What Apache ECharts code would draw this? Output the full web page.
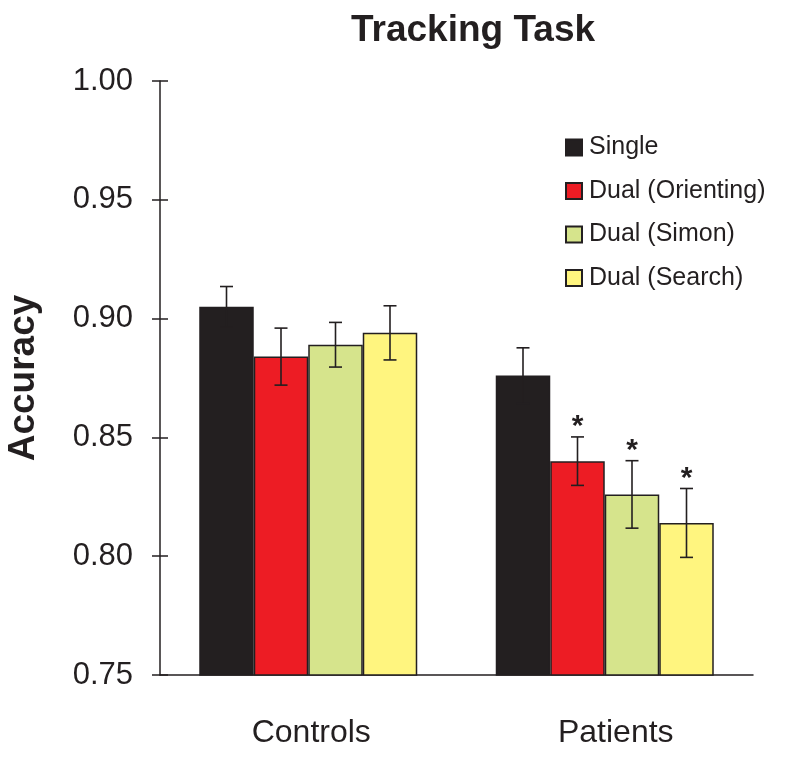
<!DOCTYPE html>
<html>
<head>
<meta charset="utf-8">
<script src="https://cdn.jsdelivr.net/npm/echarts@6/dist/echarts.min.js"></script>
<style>html,body{margin:0;padding:0;background:#fff}#c{width:800px;height:758px}</style>
</head>
<body>
<div id="c"></div>
<script>
// ---- data ----
const categories = ['Controls', 'Patients'];
const seriesNames = ['Single', 'Dual (Orienting)', 'Dual (Simon)', 'Dual (Search)'];
const singleVals = [0.905, 0.876];
const singleErr = [0.0085, 0.0117];
const orientVals = [0.884, 0.840];
const orientErr = [0.012, 0.0102];
const simonVals = [0.889, 0.826];
const simonErr = [0.0094, 0.0142];
const searchVals = [0.894, 0.814];
const searchErr = [0.0114, 0.0145];
const singleSig = [false, false];
const orientSig = [false, true];
const simonSig = [false, true];
const searchSig = [false, true];
const yTicks = [0.75, 0.80, 0.85, 0.90, 0.95, 1.00];

// ---- styling ----
const FONT = '"Liberation Sans", Arial, Helvetica, sans-serif';
const INK = '#231f20';
const colors = ['#231f20', '#ed1c24', '#d6e48c', '#fff57f'];
const BAR_W = 54.5;

const vals = [singleVals, orientVals, simonVals, searchVals];
const errs = [singleErr, orientErr, simonErr, searchErr];
const sigs = [singleSig, orientSig, simonSig, searchSig];

const chart = echarts.init(document.getElementById('c'), null, {renderer: 'canvas'});

const barSeries = seriesNames.map((n, i) => ({
  name: n,
  type: 'bar',
  data: vals[i],
  barWidth: BAR_W,
  barGap: '0%',
  itemStyle: {color: colors[i], borderColor: INK, borderWidth: 1.5},
  emphasis: {disabled: true},
  z: 2
}));

const errSeries = seriesNames.map((n, i) => ({
  type: 'custom',
  name: n + ' err',
  data: vals[i].map((v, j) => [j, v, errs[i][j], sigs[i][j] ? 1 : 0]),
  z: 5,
  silent: true,
  renderItem: function (params, api) {
    const x = api.value(0), v = api.value(1), e = api.value(2), s = api.value(3);
    const top = api.coord([x, v + e]);
    const bot = api.coord([x, v - e]);
    const cx = top[0] + (i - 1.5) * BAR_W;
    const hw = 6.5;
    const children = [
      {type: 'line', shape: {x1: cx, y1: top[1], x2: cx, y2: bot[1]}, style: {stroke: INK, lineWidth: 1.6}},
      {type: 'line', shape: {x1: cx - hw, y1: top[1], x2: cx + hw, y2: top[1]}, style: {stroke: INK, lineWidth: 1.6}},
      {type: 'line', shape: {x1: cx - hw, y1: bot[1], x2: cx + hw, y2: bot[1]}, style: {stroke: INK, lineWidth: 1.6}}
    ];
    if (s) {
      children.push({type: 'text', x: cx, y: top[1] - 10,
        style: {text: '*', fill: INK, font: 'bold 30px ' + FONT, align: 'center', verticalAlign: 'middle'}});
    }
    return {type: 'group', children: children};
  }
}));

const option = {
  animation: false,
  backgroundColor: '#fff',
  title: {
    text: 'Tracking Task',
    left: 351, top: 12, padding: 0,
    textStyle: {fontFamily: FONT, fontWeight: 'bold', fontSize: 37, color: INK}
  },
  legend: {
    orient: 'vertical',
    left: 565, top: 135, padding: 0,
    itemWidth: 16, itemHeight: 16,
    itemGap: 18.5,
    icon: 'rect',
    data: seriesNames,
    selectedMode: false,
    textStyle: {fontFamily: FONT, fontSize: 25, color: INK, padding: [0, 0, 0, 2]}
  },
  grid: {left: 160, right: 47, top: 81, bottom: 83, containLabel: false, outerBoundsMode: 'none'},
  xAxis: {
    type: 'category',
    data: categories,
    axisLine: {lineStyle: {color: INK, width: 1.5}},
    axisTick: {show: false},
    axisLabel: {
      margin: 42,
      fontFamily: FONT, fontSize: 32, color: INK,
      formatter: function (v, idx) { return idx === 1 ? '{p|' + v + '}' : '{c|' + v + '}'; },
      rich: {
        c: {fontFamily: FONT, fontSize: 32, color: INK, padding: [0, 0, 0, 6]},
        p: {fontFamily: FONT, fontSize: 32, color: INK, padding: [0, 0, 0, 22]}
      }
    }
  },
  yAxis: [{
    type: 'value',
    min: yTicks[0], max: yTicks[yTicks.length - 1], interval: 0.05,
    name: 'Accuracy',
    nameLocation: 'middle',
    nameRotate: 90,
    nameGap: 118,
    nameTextStyle: {fontFamily: FONT, fontWeight: 'bold', fontSize: 37, color: INK},
    axisLine: {show: true, lineStyle: {color: INK, width: 1.5}},
    axisTick: {show: true, length: 8, lineStyle: {color: INK, width: 1.5}},
    splitLine: {show: false},
    axisLabel: {
      margin: 27,
      fontFamily: FONT, fontSize: 31, color: INK,
      formatter: function (v) { return v.toFixed(2); }
    }
  }, {
    type: 'value',
    position: 'left',
    offset: 0,
    min: yTicks[0], max: yTicks[yTicks.length - 1], interval: 0.05,
    axisLine: {show: false},
    axisTick: {show: true, inside: true, length: 8, lineStyle: {color: INK, width: 1.5}},
    axisLabel: {show: false},
    splitLine: {show: false}
  }],
  series: barSeries.concat(errSeries)
};
chart.setOption(option);
</script>
</body>
</html>
